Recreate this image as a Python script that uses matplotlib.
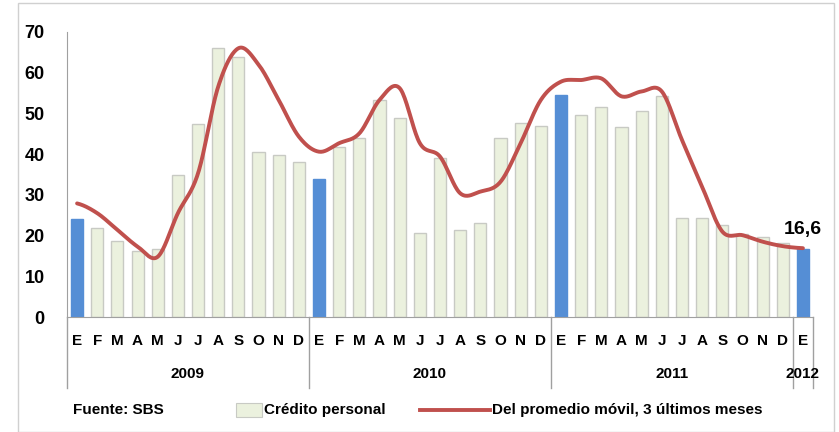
import numpy as np
import matplotlib
matplotlib.use('Agg')
import matplotlib.pyplot as plt
from matplotlib.patches import Rectangle
from matplotlib.lines import Line2D
import matplotlib.transforms as mtransforms

plt.rcParams['font.family'] = ['Liberation Sans Narrow', 'Liberation Sans', 'DejaVu Sans']

# data
months = ['E', 'F', 'M', 'A', 'M', 'J', 'J', 'A', 'S', 'O', 'N', 'D'] * 3 + ['E']
years = ['2009', '2010', '2011', '2012']
credito = [24.0, 21.8, 18.7, 16.2, 16.6, 34.9, 47.3, 66.0, 63.8, 40.6, 39.8, 38.0,
           33.9, 41.7, 43.9, 53.3, 48.9, 20.6, 39.0, 21.4, 23.2, 43.9, 47.6, 47.0,
           54.6, 49.6, 51.7, 46.6, 50.7, 54.4, 24.4, 24.2, 22.5, 20.5, 19.6, 18.2,
           16.6]
promedio = [27.9, 25.5, 21.4, 17.3, 14.8, 25.5, 35.3, 56.6, 66.0, 62.0, 53.3, 44.3,
            40.6, 42.7, 45.1, 53.3, 56.2, 42.7, 39.4, 30.4, 30.8, 33.2, 42.7, 53.3,
            57.8, 58.2, 58.6, 54.2, 55.4, 55.4, 43.5, 32.0, 21.0, 20.1, 18.5, 17.4,
            16.9]


def smooth(y, steps=20):
    # Catmull-Rom curve through the points, like Excel's smoothed line
    y = np.asarray(y, float)
    p = np.concatenate([[y[0]], y, [y[-1]]])
    xs, ys = [], []
    for i in range(len(y) - 1):
        p0, p1, p2, p3 = p[i], p[i + 1], p[i + 2], p[i + 3]
        t = np.linspace(0, 1, steps, endpoint=False)
        yy = 0.5 * (2 * p1 + (-p0 + p2) * t + (2 * p0 - 5 * p1 + 4 * p2 - p3) * t ** 2
                    + (-p0 + 3 * p1 - 3 * p2 + p3) * t ** 3)
        xs.append(i + t)
        ys.append(yy)
    xs.append([len(y) - 1])
    ys.append([y[-1]])
    return np.concatenate(xs), np.concatenate(ys)


W, H = 839, 432
fig = plt.figure(figsize=(W / 100, H / 100), dpi=100)
fig.patches.append(Rectangle((18 / W, 0), (834 - 18) / W, (H - 3) / H, transform=fig.transFigure,
                             fill=False, edgecolor='#d0d0d0', linewidth=1))

ax = fig.add_axes([67 / W, 1 - 317 / H, (813 - 67) / W, (317 - 32) / H])
n = len(credito)
x = np.arange(n)
colors = ['#558ed5' if m_i % 12 == 0 else '#ebf1de' for m_i in range(n)]
edges = ['#558ed5' if m_i % 12 == 0 else '#c8cac4' for m_i in range(n)]
ax.bar(x, credito, width=0.6, color=colors, edgecolor=edges, linewidth=1, zorder=2)

sx, sy = smooth(promedio)
ax.plot(sx, sy, color='#c0504d', linewidth=2.8, solid_capstyle='round', zorder=3)

ax.text(n - 1, 19.3, '16,6', ha='center', va='bottom', fontsize=14, fontweight='bold')

ax.set_xlim(-0.5, n - 0.5)
ax.set_ylim(0, 70)
ax.set_yticks(range(0, 71, 10))
ax.tick_params(axis='y', length=0, pad=16, labelsize=13)
for lab in ax.get_yticklabels():
    lab.set_fontweight('bold')
ax.set_xticks(x)
ax.set_xticklabels(months, fontsize=11, fontweight='bold')
ax.tick_params(axis='x', length=0, pad=12)
for s in ['top', 'right']:
    ax.spines[s].set_visible(False)
ax.spines['left'].set_color('#a0a0a0')
ax.spines['bottom'].set_color('#a0a0a0')

# year groups
trans = mtransforms.blended_transform_factory(ax.transData, ax.transAxes)
bounds = [-0.5, 11.5, 23.5, 35.5, n - 0.5]
ybot = -(388 - 317) / (317 - 32)
for b in bounds:
    ax.add_line(Line2D([b, b], [0, ybot], transform=trans, color='#a0a0a0', linewidth=1, clip_on=False))
for i, yr in enumerate(years):
    xc = (bounds[i] + bounds[i + 1]) / 2
    ax.text(xc, -(374 - 317) / (317 - 32), yr, transform=trans, ha='center', va='center',
            fontsize=11, fontweight='bold')

# legend row
ly = 1 - 410 / H
fig.text(73 / W, ly, 'Fuente: SBS', ha='left', va='center', fontsize=11, fontweight='bold')
fig.patches.append(Rectangle((236 / W, ly - 7 / H), 26 / W, 14 / H, transform=fig.transFigure,
                             facecolor='#ebf1de', edgecolor='#c8cac4', linewidth=0.8))
fig.text(264 / W, ly, 'Crédito personal', ha='left', va='center', fontsize=11, fontweight='bold')
fig.lines.append(Line2D([420 / W, 490 / W], [ly, ly], transform=fig.transFigure,
                        color='#c0504d', linewidth=2.8))
fig.text(492 / W, ly, 'Del promedio móvil, 3 últimos meses', ha='left', va='center',
         fontsize=11, fontweight='bold')

fig.savefig('out.png', dpi=100)
